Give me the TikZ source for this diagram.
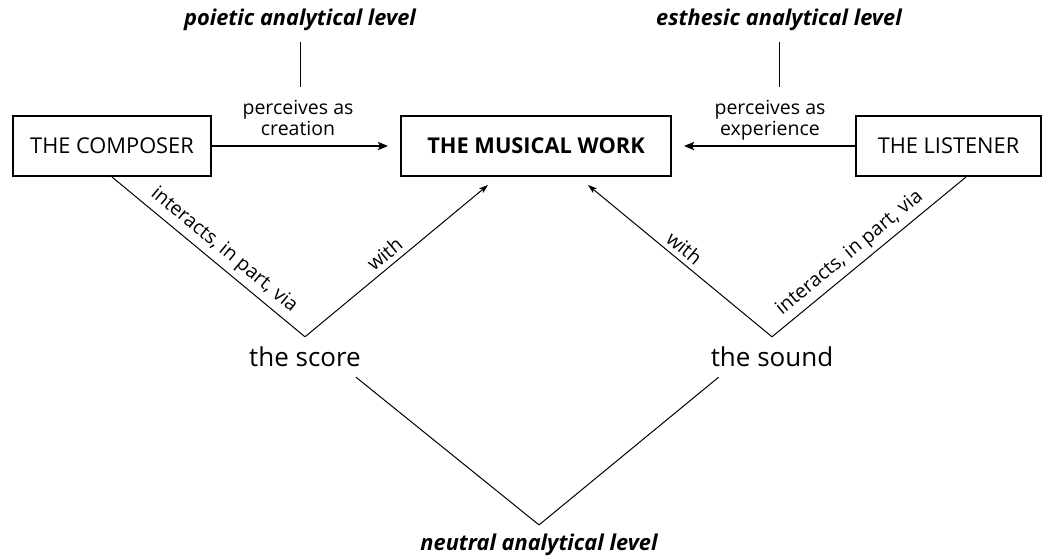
\documentclass[tikz,border=0pt]{standalone}
\usepackage{fontspec}
\setmainfont{Open Sans}
\usetikzlibrary{arrows.meta}
\begin{document}
\begin{tikzpicture}[x=1pt,y=-1pt,
  box/.style={draw, line width=2pt, minimum height=60pt, inner sep=0pt,
    font=\fontsize{21.8}{25}\selectfont},
  edgelabel/.style={font=\fontsize{19.5}{20.5}\selectfont, inner sep=0pt},
  level/.style={font=\fontsize{21.8}{24}\selectfont\bfseries\itshape, inner sep=0pt},
  item/.style={font=\fontsize{26}{30}\selectfont, inner xsep=0pt, inner ysep=10pt},
  strong/.style={line width=2pt, -{Stealth[length=10pt,width=8pt,inset=2pt]}, shorten >=12pt},
  thin/.style={line width=1pt},
  thinarrow/.style={thin, -{Stealth[length=9pt,width=6pt,inset=2pt]}},
]
\useasboundingbox (0,0) rectangle (1062,558);

% the three actors
\node[box, minimum width=198pt] (comp) at (112,146) {THE COMPOSER};
\node[box, minimum width=270pt, font=\fontsize{21.8}{25}\selectfont\bfseries] (work) at (536,146) {THE MUSICAL WORK};
\node[box, minimum width=185pt] (list) at (948.5,146) {THE LISTENER};

% traces
\node[item] (score) at (305,357) {the score};
\node[item] (sound) at (772,357) {the sound};

% analytical levels
\node[level] (poi) at (300,20) {poietic analytical level};
\node[level] (est) at (779,20) {esthesic analytical level};
\node[level, inner ysep=9pt] (neu) at (539,545) {neutral analytical level};

% perception labels
\node[edgelabel, align=center] (pc) at (298,118) {perceives as\\creation};
\node[edgelabel, align=center] (pe) at (770,120) {perceives as\\experience};

% perception arrows
\draw[strong] (comp.east) -- (work.west);
\draw[strong] (list.west) -- (work.east);

% level ticks
\draw[thin, shorten <=11pt, shorten >=13pt] (poi.south) -- (poi.south |- pc.north);
\draw[thin, shorten <=11pt, shorten >=13pt] (est.south) -- (est.south |- pe.north);

% interaction paths
\draw[thin] (comp.south) -- node[edgelabel, sloped, above=5pt, pos=0.53] {interacts, in part, via} (score.north);
\draw[thinarrow] (score.north) -- node[edgelabel, sloped, above=5pt, pos=0.48] {with} ([xshift=-48pt,yshift=-8pt]work.south);
\draw[thinarrow] (sound.north) -- node[edgelabel, sloped, above=5pt, pos=0.52] {with} ([xshift=52pt,yshift=-8pt]work.south);
\draw[thin] (sound.north) -- node[edgelabel, sloped, above=5pt, pos=0.45] {interacts, in part, via} ([xshift=17.5pt]list.south);

% neutral level
\draw[thin] ([xshift=-5pt]score.south east) -- (neu.north);
\draw[thin] ([xshift=8pt]sound.south west) -- (neu.north);
\end{tikzpicture}
\end{document}
